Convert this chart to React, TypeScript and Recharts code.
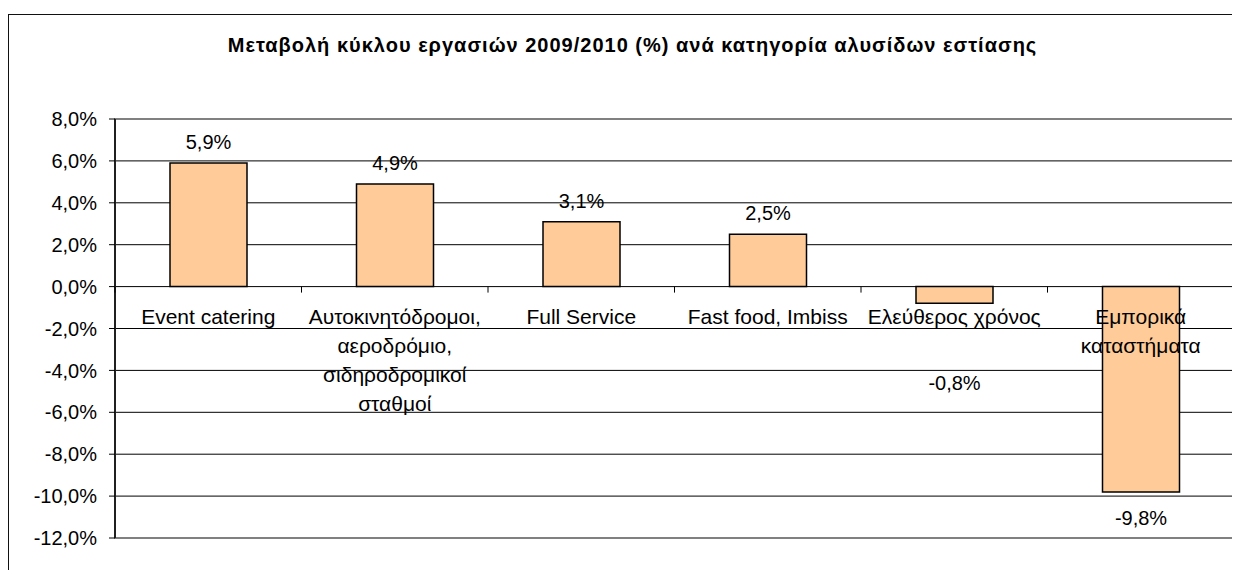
import React from "react"
import { BarChart, Bar, XAxis, YAxis, CartesianGrid, ReferenceArea, LabelList } from "recharts"

const categories = [
  "Event catering",
  "Αυτοκινητόδρομοι, αεροδρόμιο, σιδηροδρομικοί σταθμοί",
  "Full Service",
  "Fast food, Imbiss",
  "Ελεύθερος χρόνος",
  "Εμπορικά καταστήματα",
]
const changes = [5.9, 4.9, 3.1, 2.5, -0.8, -9.8]
const yTicks = [-12, -10, -8, -6, -4, -2, 0, 2, 4, 6, 8]

const title = "Μεταβολή κύκλου εργασιών 2009/2010 (%) ανά κατηγορία αλυσίδων εστίασης"

const W = 1232
const H = 560
const M = { top: 104, right: 7, bottom: 36, left: 0 }
const X_AXIS_H = 1
const Y_MIN = -12
const Y_MAX = 8
const PLOT_H = H - M.top - M.bottom - X_AXIS_H
const PLOT_W = W - 106 - M.right
const BAND = PLOT_W / categories.length
const ZERO_Y = M.top + (PLOT_H * Y_MAX) / (Y_MAX - Y_MIN)

const FONT = "'Liberation Sans', Arial, sans-serif"
const CAT_FONT = 21

const data = categories.map((name, i) => ({ name, value: changes[i] }))

const fmt = (v: number) => v.toFixed(1).replace(".", ",") + "%"

let ctx: CanvasRenderingContext2D | null = null
function measure(s: string) {
  if (!ctx) {
    ctx = document.createElement("canvas").getContext("2d")
  }
  if (!ctx) return s.length * CAT_FONT * 0.55
  ctx.font = `${CAT_FONT}px 'Liberation Sans', Arial, sans-serif`
  return ctx.measureText(s).width
}

// greedy word wrap
function wrap(s: string, maxW: number) {
  const lines: string[] = []
  let cur = ""
  for (const w of s.split(" ")) {
    const next = cur ? cur + " " + w : w
    if (cur && measure(next) > maxW) {
      lines.push(cur)
      cur = w
    } else {
      cur = next
    }
  }
  if (cur) lines.push(cur)
  return lines
}

function CategoryTick(props: any) {
  const { x, payload, index } = props
  const lines = wrap(String(payload.value), 178)
  return (
    <g>
      <line x1={x - BAND / 2} x2={x - BAND / 2} y1={ZERO_Y} y2={ZERO_Y + 6} stroke="#000" />
      {index === categories.length - 1 && (
        <line x1={x + BAND / 2} x2={x + BAND / 2} y1={ZERO_Y} y2={ZERO_Y + 6} stroke="#000" />
      )}
      <text x={x} y={ZERO_Y + 37} textAnchor="middle" fontSize={CAT_FONT} fontFamily={FONT} fill="#000">
        {lines.map((l, i) => (
          <tspan key={i} x={x} dy={i === 0 ? 0 : 29}>
            {l}
          </tspan>
        ))}
      </text>
    </g>
  )
}

function ValueLabel(props: any) {
  const { x, y, width, height, value } = props
  const top = Math.min(y, y + height)
  const bottom = Math.max(y, y + height)
  const cx = x + width / 2
  const center = value >= 0 ? top - 21 : Math.max(bottom + 26, ZERO_Y + 96)
  return (
    <text x={cx} y={center + 7} textAnchor="middle" fontSize={20} fontFamily={FONT} fill="#000">
      {fmt(value)}
    </text>
  )
}

export default function App() {
  return (
    <div style={{ position: "relative", width: W, height: H, marginTop: 6, border: "1px solid #111" }}>
      <div
        style={{
          position: "absolute",
          left: 0,
          top: 17,
          width: 1247,
          textAlign: "center",
          fontFamily: FONT,
          fontWeight: "bold",
          fontSize: 20,
          letterSpacing: 1,
          lineHeight: "26px",
          color: "#000",
        }}
      >
        {title}
      </div>
      <BarChart width={W} height={H} data={data} margin={M}>
        <CartesianGrid horizontal vertical={false} stroke="#000" strokeWidth={1} />
        <ReferenceArea y1={Y_MIN} y2={Y_MAX} fill="none" stroke="#808080" strokeWidth={2} />
        <YAxis
          type="number"
          domain={[Y_MIN, Y_MAX]}
          ticks={yTicks}
          width={106}
          tickFormatter={fmt}
          tickSize={6}
          tickMargin={12}
          axisLine={{ stroke: "#000", strokeWidth: 1.5 }}
          tickLine={{ stroke: "#000" }}
          tick={{ fill: "#000", fontSize: 20, fontFamily: FONT }}
          interval={0}
        />
        <Bar dataKey="value" fill="#FFCC99" stroke="#000" strokeWidth={1.5} barSize={77} isAnimationActive={false}>
          <LabelList dataKey="value" content={ValueLabel} />
        </Bar>
        <XAxis
          dataKey="name"
          height={X_AXIS_H}
          axisLine={false}
          tickLine={false}
          tick={CategoryTick}
          interval={0}
        />
      </BarChart>
    </div>
  )
}
